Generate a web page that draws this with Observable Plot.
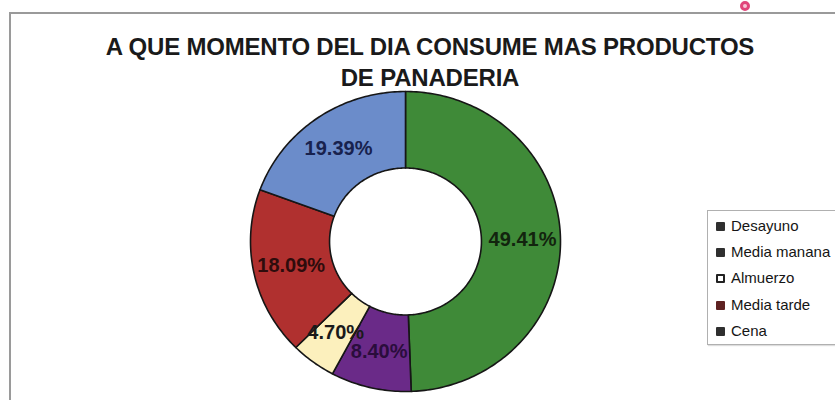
<!DOCTYPE html>
<html>
<head>
<meta charset="utf-8">
<script src="https://cdn.jsdelivr.net/npm/d3@7"></script>
<script src="https://cdn.jsdelivr.net/npm/@observablehq/plot@0.6"></script>
<style>
  html, body { margin: 0; padding: 0; background: #fff; }
  #chart { position: relative; width: 835px; height: 400px; overflow: hidden; background: #fff;
           font-family: "Liberation Sans", Arial, Helvetica, sans-serif; }
  #frame { position: absolute; left: 9px; top: 12px; width: 900px; height: 500px;
           border: 2px solid #9a9a9a; box-sizing: border-box; }
  #ring { position: absolute; left: 740px; top: 1px; width: 10px; height: 10px; border-radius: 50%;
          border: 3px solid #e0457a; box-sizing: border-box; background: #f6c6d6; }
  #plot { position: absolute; left: 0; top: 0; }
  #title { position: absolute; left: 0; top: 31px; width: 860px; text-align: center;
           font-weight: bold; font-size: 24px; line-height: 31px; color: #1a1a1a; letter-spacing: -0.2px; }
  #legend { position: absolute; left: 707px; top: 210px; width: 200px; height: 135px;
            border: 1px solid #b0b0b0; box-sizing: border-box; background: #fff;
            box-shadow: 1px 1px 1px #ddd; }
  .item { position: absolute; left: 8px; font-size: 15px; color: #151515; white-space: nowrap; line-height: 18px; }
  .sw { display: inline-block; width: 9px; height: 9px; margin-right: 6px; vertical-align: 0px; box-sizing: border-box; border-radius: 1px; }
</style>
</head>
<body>
<div id="chart">
  <div id="frame"></div>
  <div id="ring"></div>
  <div id="plot"></div>
  <div id="title"></div>
  <div id="legend"></div>
</div>
<script>
// ---- data ----
const titleLines = ["A QUE MOMENTO DEL DIA CONSUME MAS PRODUCTOS", "DE PANADERIA"];
const categories = ["Desayuno", "Media manana", "Almuerzo", "Media tarde", "Cena"];
const percents = [49.41, 8.40, 4.70, 18.09, 19.39];
const valueLabels = ["49.41%", "8.40%", "4.70%", "18.09%", "19.39%"];
// ---- styles ----
const sliceColors = ["#3f8a38", "#6a2a88", "#fcf0bd", "#b0302f", "#6b8cca"];
const labelColors = ["#12240e", "#2a0d3c", "#1a1a1a", "#2e0c0c", "#18224e"];
const legendMarkers = ["#2f2f2f", "#2f2f2f", "#ffffff", "#5e2222", "#2f2f2f"];

// title
document.getElementById("title").innerHTML = titleLines.map(t => `<div>${t}</div>`).join("");

// legend
const legend = document.getElementById("legend");
categories.forEach((c, i) => {
  const d = document.createElement("div");
  d.className = "item";
  d.style.top = (6 + i * 26.2) + "px";
  const border = legendMarkers[i] === "#ffffff" ? "border:2px solid #222;" : "";
  d.innerHTML = `<span class="sw" style="background:${legendMarkers[i]};${border}"></span>${c}`;
  legend.appendChild(d);
});

// donut geometry from data
const rows = categories.map((k, i) => ({key: k, value: percents[i], label: valueLabels[i]}));
const arcs = d3.pie().sort(null).value(d => d.value)(rows);
const inner = 0.49, outer = 1, labelR = 0.755;
const step = Math.PI / 180;
const pts = [];
arcs.forEach(a => {
  const n = Math.max(2, Math.ceil((a.endAngle - a.startAngle) / step));
  for (let j = 0; j <= n; j++) {
    const t = a.startAngle + (a.endAngle - a.startAngle) * j / n;
    pts.push({key: a.data.key, x: outer * Math.sin(t), y: outer * Math.cos(t)});
  }
  for (let j = n; j >= 0; j--) {
    const t = a.startAngle + (a.endAngle - a.startAngle) * j / n;
    pts.push({key: a.data.key, x: inner * Math.sin(t), y: inner * Math.cos(t)});
  }
});
const labelRows = arcs.map(a => {
  const m = (a.startAngle + a.endAngle) / 2;
  return {key: a.data.key, text: a.data.label, x: labelR * Math.sin(m), y: labelR * Math.cos(m)};
});

const plot = Plot.plot({
  width: 835,
  height: 400,
  marginLeft: 250,
  marginRight: 275,
  marginTop: 91,
  marginBottom: 9,
  style: {background: "transparent", overflow: "visible"},
  x: {domain: [-1, 1], axis: null},
  y: {domain: [-1, 1], axis: null},
  color: {domain: categories, range: sliceColors},
  marks: [
    Plot.line(pts, {x: "x", y: "y", z: "key", fill: "key", stroke: "#161616", strokeWidth: 1.6, curve: "linear-closed"}),
    ...labelRows.map((r, i) => Plot.text([r], {
      x: "x", y: "y", text: "text", fill: labelColors[i],
      fontSize: 20, fontWeight: "bold", fontFamily: "Liberation Sans, Arial, sans-serif"
    }))
  ]
});
document.getElementById("plot").appendChild(plot);
</script>
</body>
</html>
